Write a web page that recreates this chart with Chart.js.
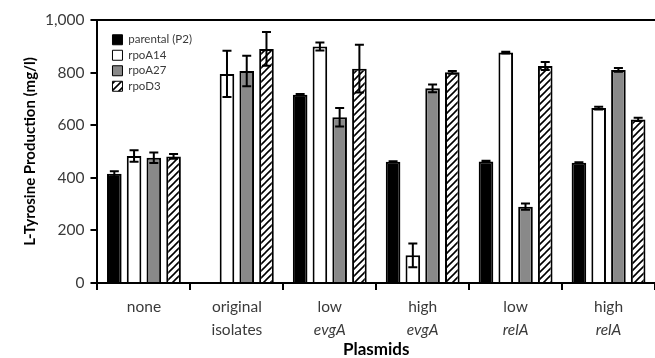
<!DOCTYPE html>
<html>
<head>
<meta charset="utf-8">
<script src="https://cdn.jsdelivr.net/npm/chart.js@4.4.1/dist/chart.umd.min.js"></script>
<style>
  html, body { margin: 0; padding: 0; background: #ffffff; }
  #wrap { width: 655px; height: 358px; }
</style>
</head>
<body>
<div id="wrap"><canvas id="c" width="655" height="358"></canvas></div>
<script>
// ---- data ----
const categoriesLine1 = ["none", "original", "low", "high", "low", "high"];
const categoriesLine2 = ["", "isolates", "evgA", "evgA", "relA", "relA"];
const italicLine2 = [false, false, true, true, true, true];

const seriesNames = ["parental (P2)", "rpoA14", "rpoA27", "rpoD3"];
const parental    = [415, null, 716, 461, 462, 457];
const parentalErr = [10, null, 3, 2, 3, 2];
const rpoA14      = [483, 795, 899, 105, 876, 665];
const rpoA14Err   = [22, 88, 15, 45, 3, 5];
const rpoA27      = [476, 806, 630, 740, 290, 810];
const rpoA27Err   = [20, 58, 35, 15, 12, 7];
const rpoD3       = [481, 890, 815, 801, 825, 622];
const rpoD3Err    = [9, 64, 91, 5, 15, 6];

const yTicks = [0, 200, 400, 600, 800, 1000];

// ---- styling ----
const FONT = "Lato, 'Liberation Sans', sans-serif";
const TXT = "#3a3a3a";

function makeHatch() {
  const s = 7;
  const cv = document.createElement('canvas');
  cv.width = s; cv.height = s;
  const g = cv.getContext('2d');
  g.fillStyle = '#ffffff';
  g.fillRect(0, 0, s, s);
  g.strokeStyle = '#000000';
  g.lineWidth = 1.6;
  g.beginPath();
  g.moveTo(-1, s + 1); g.lineTo(s + 1, -1);
  g.moveTo(-1, 1); g.lineTo(1, -1);
  g.moveTo(s - 1, s + 1); g.lineTo(s + 1, s - 1);
  g.stroke();
  return g.createPattern(cv, 'repeat');
}
const hatch = makeHatch();

const errorArrays = [parentalErr, rpoA14Err, rpoA27Err, rpoD3Err];

const errorBarPlugin = {
  id: 'errorBars',
  afterDatasetsDraw(chart) {
    const ctx = chart.ctx;
    const yScale = chart.scales.y;
    ctx.save();
    ctx.strokeStyle = '#000000';
    ctx.lineWidth = 2;
    chart.data.datasets.forEach((ds, di) => {
      const meta = chart.getDatasetMeta(di);
      const errs = errorArrays[di];
      meta.data.forEach((bar, i) => {
        const v = ds.data[i];
        const e = errs[i];
        if (v == null || e == null) return;
        const x = bar.x;
        const yTop = yScale.getPixelForValue(v + e);
        const yBot = yScale.getPixelForValue(v - e);
        const cap = 4.5;
        ctx.beginPath();
        ctx.moveTo(x, yTop); ctx.lineTo(x, yBot);
        ctx.moveTo(x - cap, yTop); ctx.lineTo(x + cap, yTop);
        ctx.moveTo(x - cap, yBot); ctx.lineTo(x + cap, yBot);
        ctx.stroke();
      });
    });
    ctx.restore();
  }
};

const legendShiftPlugin = {
  id: 'legendShift',
  afterLayout(chart) {
    const l = chart.legend;
    if (!l) return;
    const dx = 11, dy = 30;
    l.left += dx; l.right += dx;
    l.top += dy; l.bottom += dy;
    if (l.legendHitBoxes) l.legendHitBoxes.forEach(h => { h.left += dx; h.top += dy; });
  }
};

const common = { borderColor: '#000000', borderWidth: 2, barPercentage: 0.74, categoryPercentage: 0.85 };

new Chart(document.getElementById('c'), {
  type: 'bar',
  data: {
    labels: categoriesLine1,
    datasets: [
      Object.assign({ label: seriesNames[0], data: parental, backgroundColor: '#000000' }, common),
      Object.assign({ label: seriesNames[1], data: rpoA14, backgroundColor: '#ffffff' }, common),
      Object.assign({ label: seriesNames[2], data: rpoA27, backgroundColor: '#898989' }, common),
      Object.assign({ label: seriesNames[3], data: rpoD3, backgroundColor: hatch }, common)
    ]
  },
  options: {
    responsive: false,
    animation: false,
    devicePixelRatio: 1,
    layout: { padding: { top: 20, right: 0, left: 21, bottom: 0 } },
    plugins: {
      tooltip: { enabled: false },
      legend: {
        position: 'chartArea',
        align: 'start',
        labels: {
          boxWidth: 10,
          boxHeight: 10,
          padding: 4,
          color: TXT,
          font: { family: FONT, size: 11.5 },
          generateLabels(chart) {
            const items = Chart.defaults.plugins.legend.labels.generateLabels(chart);
            items.forEach(it => { it.lineWidth = 1; it.strokeStyle = '#000000'; });
            return items;
          }
        }
      }
    },
    scales: {
      x: {
        type: 'category',
        position: 'bottom',
        offset: true,
        weight: 1,
        grid: { offset: true, drawOnChartArea: false, color: '#000000', lineWidth: 2, tickLength: 7 },
        border: { color: '#000000', width: 2 },
        ticks: { color: TXT, font: { family: FONT, size: 15.5, lineHeight: 1.1 }, padding: 9, maxRotation: 0, autoSkip: false }
      },
      x2: {
        type: 'category',
        labels: categoriesLine2,
        position: 'bottom',
        offset: true,
        weight: 2,
        grid: { display: false, drawTicks: false },
        border: { display: false },
        ticks: {
          color: TXT,
          mirror: true,
          padding: -14,
          maxRotation: 0,
          autoSkip: false,
          font: (ctx) => ({ family: FONT, size: 15.5, lineHeight: 1.1, style: italicLine2[ctx.index] ? 'italic' : 'normal' })
        },
        title: { display: true, text: 'Plasmids', color: '#000000', font: { family: FONT, size: 17, weight: 'bold', lineHeight: 1 }, padding: { top: 44, bottom: 0 } }
      },
      y: {
        min: 0,
        max: 1000,
        afterBuildTicks(scale) { scale.ticks = yTicks.map(v => ({ value: v })); },
        grid: {
          drawOnChartArea: true,
          color: (ctx) => (ctx.tick && ctx.tick.value === 1000 ? '#000000' : 'rgba(0,0,0,0)'),
          tickColor: '#000000',
          lineWidth: 2,
          tickLength: 7
        },
        border: { color: '#000000', width: 2 },
        ticks: { color: TXT, font: { family: FONT, size: 15.5 }, padding: 6,
          callback: (v) => Number(v).toLocaleString('en-US') },
        title: { display: true, text: 'L-Tyrosine Production (mg/l)', color: '#000000', font: { family: FONT, size: 15, weight: 'bold' }, padding: { top: 0, bottom: 0 } }
      }
    }
  },
  plugins: [errorBarPlugin, legendShiftPlugin]
});
</script>
</body>
</html>
